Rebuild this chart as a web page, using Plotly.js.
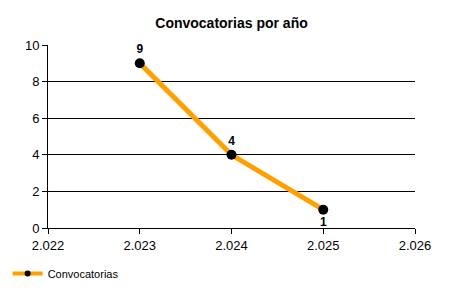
<!DOCTYPE html>
<html><head><meta charset="utf-8">
<script src="https://cdn.plot.ly/plotly-3.0.1.min.js"></script>
<style>html,body{margin:0;padding:0;background:#fff}</style>
</head><body>
<div id="chart" style="width:450px;height:300px"></div>
<script>
const years = [2023, 2024, 2025];
const counts = [9, 4, 1];
const seriesName = 'Convocatorias';
const titleText = 'Convocatorias por año';

const fontFam = 'Liberation Sans, Arial, sans-serif';
const trace = {
  x: years, y: counts, name: seriesName, showlegend: false,
  type: 'scatter', mode: 'lines+markers+text',
  text: counts.map(String),
  textposition: ['top center', 'top center', 'bottom center'],
  textfont: {family: fontFam, size: 12, color: '#000', weight: 'bold'},
  line: {color: '#FFA000', width: 5},
  marker: {color: '#000', size: 10},
  cliponaxis: false
};
const legendTrace = {
  x: [null], y: [null], name: seriesName, showlegend: true,
  type: 'scatter', mode: 'lines+markers',
  line: {color: '#FFA000', width: 4},
  marker: {color: '#000', size: 6}
};
const layout = {
  width: 450, height: 300,
  margin: {l: 48, r: 35, t: 45, b: 72, autoexpand: false},
  paper_bgcolor: '#fff', plot_bgcolor: '#fff',
  separators: ',.',
  font: {family: fontFam, size: 12, color: '#000'},
  title: {text: '<b>' + titleText + '</b>', x: 0.5, xref: 'paper', y: 0.94, yref: 'container', font: {size: 14, family: fontFam}},
  xaxis: {range: [2022, 2026], dtick: 1, tick0: 2022, tickformat: ',d', showgrid: false, zeroline: false,
          showline: true, linecolor: '#000', linewidth: 1, ticks: 'outside', ticklen: 5, tickcolor: '#000',
          tickfont: {size: 13}, fixedrange: true},
  yaxis: {range: [0, 10], dtick: 2, showgrid: true, gridcolor: '#000', gridwidth: 1, zeroline: false,
          showline: true, linecolor: '#000', linewidth: 1, ticks: 'outside', ticklen: 5, tickcolor: '#000',
          tickfont: {size: 13}, fixedrange: true},
  showlegend: true,
  legend: {orientation: 'h', x: -0.11, xanchor: 'left', y: -0.17, yanchor: 'top', font: {size: 11}, bgcolor: 'rgba(0,0,0,0)'}
};
Plotly.newPlot('chart', [trace, legendTrace], layout, {displayModeBar: false, staticPlot: true});
</script>
</body></html>
